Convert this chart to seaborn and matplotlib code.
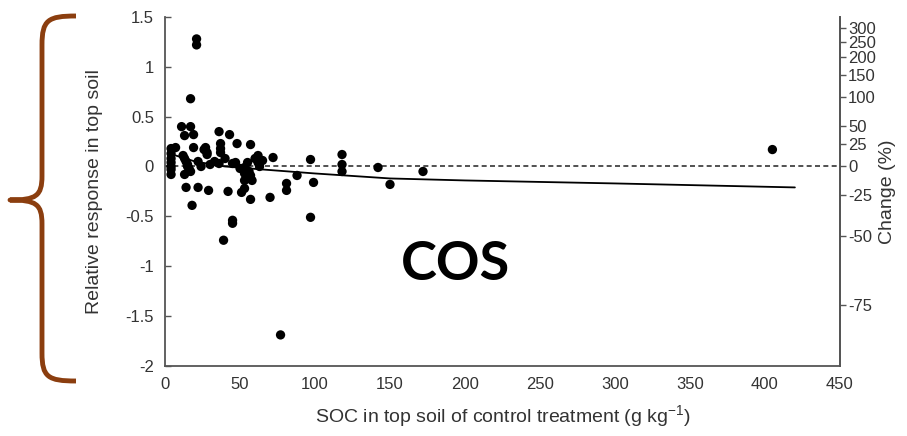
import numpy as np
import pandas as pd
import matplotlib
matplotlib.use("Agg")
import matplotlib.pyplot as plt
from matplotlib.path import Path
from matplotlib.patches import PathPatch
import seaborn as sns

# ---- data ----
soc = [
    21, 21, 17, 11, 17, 13, 19, 36, 43, 37, 37, 37, 48, 57, 19, 27, 28, 7,
    4, 4, 4, 4, 4, 4, 4,
    12, 13, 14, 15, 16, 17, 13, 15,
    22, 24, 26, 28, 30,
    33, 36, 40,
    45, 47, 50,
    55, 56, 57, 57, 58,
    60, 62, 62, 63, 65,
    53, 53, 53,
    72, 97, 88, 99, 81, 81,
    14, 22, 29, 18, 42, 51, 53, 57, 70, 45, 45, 39, 97, 77,
    118, 118, 118, 142, 150, 172, 405,
]
response = [
    1.28, 1.22, 0.68, 0.40, 0.40, 0.31, 0.32, 0.35, 0.32, 0.23, 0.18, 0.14, 0.23, 0.22, 0.19, 0.19, 0.14, 0.19,
    0.18, 0.13, 0.08, 0.04, 0.0, -0.03, -0.08,
    0.11, 0.08, 0.05, 0.02, -0.02, -0.05, -0.08, 0.0,
    0.05, 0.0, 0.17, 0.12, 0.02,
    0.05, 0.03, 0.08,
    0.03, 0.04, -0.02,
    0.04, -0.05, -0.09, -0.12, -0.14,
    0.08, 0.11, 0.04, 0.0, 0.06,
    -0.01, -0.07, -0.14,
    0.09, 0.07, -0.09, -0.16, -0.17, -0.24,
    -0.21, -0.21, -0.24, -0.39, -0.25, -0.26, -0.22, -0.33, -0.31, -0.54, -0.57, -0.74, -0.51, -1.69,
    0.12, 0.02, -0.05, -0.01, -0.18, -0.05, 0.17,
]

fit_soc = [5, 20, 40, 65, 100, 150, 200, 300, 420]
fit_response = [0.12, 0.05, 0.0, -0.03, -0.07, -0.12, -0.14, -0.17, -0.21]

left_ticks = [-2, -1.5, -1, -0.5, 0, 0.5, 1, 1.5]
left_labels = ["-2", "-1.5", "-1", "-0.5", "0", "0.5", "1", "1.5"]
change_pct = [-75, -50, -25, 0, 25, 50, 100, 150, 200, 250, 300]
x_ticks = [0, 50, 100, 150, 200, 250, 300, 350, 400, 450]

df = pd.DataFrame({"soc": soc, "response": response})
df_fit = pd.DataFrame({"soc": fit_soc, "response": fit_response})

# ---- plot ----
sns.set_theme(style="white")
plt.rcParams["font.family"] = ["Liberation Sans", "DejaVu Sans"]
plt.rcParams["mathtext.fontset"] = "custom"
plt.rcParams["mathtext.rm"] = "Liberation Sans"

fig = plt.figure(figsize=(9.07, 4.36), dpi=100)
ax = fig.add_axes([0.182, 0.161, 0.744, 0.800])

grey = "#555555"
txt = "#333333"

ax.axhline(0, color="#333333", lw=1.2, ls=(0, (3, 2)), zorder=1)
sns.lineplot(data=df_fit, x="soc", y="response", color="black", lw=1.3, ax=ax, zorder=2)
sns.scatterplot(data=df, x="soc", y="response", color="black", s=45, edgecolor="none", ax=ax, zorder=3)

ax.set_xlim(0, 450)
ax.set_ylim(-2, 1.5)
ax.set_xticks(x_ticks)
ax.set_yticks(left_ticks)
ax.set_yticklabels(left_labels)
ax.tick_params(axis="both", direction="in", length=4, width=1, colors=grey,
               labelcolor=txt, labelsize=12, pad=8)
ax.set_xlabel("SOC in top soil of control treatment (g kg$^{\\mathregular{-1}}$)",
              fontsize=14, color=txt, labelpad=8)
ax.set_ylabel("Relative response in top soil", fontsize=14, color=txt, labelpad=16)

for side in ["left", "bottom", "right"]:
    ax.spines[side].set_color(grey)
    ax.spines[side].set_linewidth(1.3)
ax.spines["top"].set_visible(False)

# right axis: percentage change on log-ratio scale
ax2 = ax.twinx()
ax2.set_ylim(-2, 1.5)
ax2.set_yticks(np.log(1 + np.array(change_pct) / 100))
ax2.set_yticklabels([str(p) for p in change_pct])
ax2.tick_params(axis="y", direction="out", length=4, width=1, colors=grey,
                labelcolor=txt, labelsize=12, pad=2)
ax2.set_ylabel("Change (%)", fontsize=14, color=txt, labelpad=2)
for side in ["left", "bottom", "top"]:
    ax2.spines[side].set_visible(False)
ax2.spines["right"].set_color(grey)
ax2.spines["right"].set_linewidth(1.3)

ax.text(0.43, 0.29, "COS", transform=ax.transAxes, fontsize=39, fontweight="bold",
        family=["Lato", "DejaVu Sans"], color="black", ha="center", va="center")

# brown curly brace on the left, in figure pixels
W, H = 907, 436
def fp(x, y):
    return (x / W, 1 - y / H)

verts = [fp(76, 16),
         fp(48, 16), fp(42, 20), fp(42, 45),
         fp(42, 176),
         fp(42, 196), fp(36, 200), fp(10, 200),
         fp(36, 200), fp(42, 204), fp(42, 224),
         fp(42, 353),
         fp(42, 377), fp(48, 381), fp(76, 381)]
codes = [Path.MOVETO,
         Path.CURVE4, Path.CURVE4, Path.CURVE4,
         Path.LINETO,
         Path.CURVE4, Path.CURVE4, Path.CURVE4,
         Path.CURVE4, Path.CURVE4, Path.CURVE4,
         Path.LINETO,
         Path.CURVE4, Path.CURVE4, Path.CURVE4]
brace = PathPatch(Path(verts, codes), transform=fig.transFigure, facecolor="none",
                  edgecolor="#8B3E0F", lw=3.5, capstyle="butt", joinstyle="round")
fig.patches.append(brace)

fig.savefig("out.png", dpi=100)
